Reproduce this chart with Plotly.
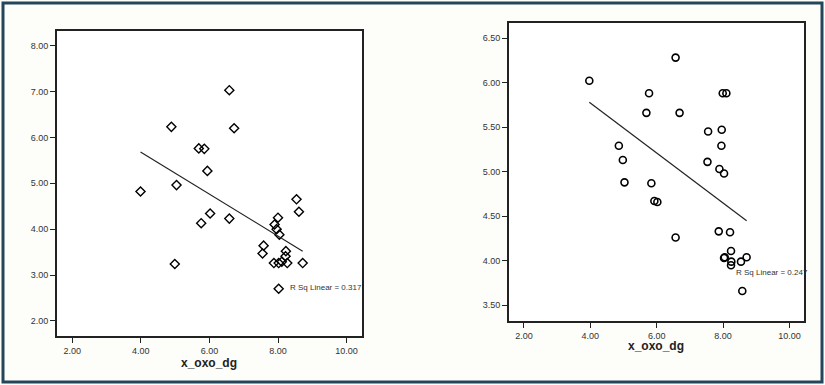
import plotly.graph_objects as go

# ---- data ----
left_x = [3.99, 4.89, 5.04, 4.99, 5.69, 5.85, 5.94, 5.76, 6.02, 6.58, 6.72, 6.58,
          8.00, 7.90, 7.96, 8.04, 7.58, 7.55, 8.54, 8.61, 8.23, 8.22, 7.88, 8.02,
          8.11, 8.27, 8.72, 8.02]
left_y = [4.82, 6.23, 4.96, 3.24, 5.76, 5.75, 5.27, 4.13, 4.34, 7.03, 6.20, 4.23,
          4.25, 4.10, 4.00, 3.88, 3.64, 3.47, 4.65, 4.38, 3.52, 3.41, 3.26, 3.26,
          3.29, 3.26, 3.26, 2.70]
left_fit_x = [3.99, 8.72]
left_fit_y = [5.68, 3.52]
left_r2 = "R Sq Linear = 0.317"

right_x = [3.97, 6.57, 5.77, 5.69, 6.69, 7.99, 8.10, 7.55, 7.96, 7.95, 4.86, 4.98,
           5.03, 7.53, 7.89, 8.03, 5.84, 5.93, 6.02, 6.57, 7.87, 8.21, 8.24, 8.03,
           8.05, 8.25, 8.24, 8.54, 8.71, 8.58]
right_y = [6.02, 6.28, 5.88, 5.66, 5.66, 5.88, 5.88, 5.45, 5.47, 5.29, 5.29, 5.13,
           4.88, 5.11, 5.03, 4.98, 4.87, 4.67, 4.66, 4.26, 4.33, 4.32, 4.11, 4.03,
           4.04, 3.99, 3.95, 3.99, 4.04, 3.66]
right_fit_x = [3.97, 8.71]
right_fit_y = [5.78, 4.45]
right_r2 = "R Sq Linear = 0.247"

x_ticks = [2, 4, 6, 8, 10]
x_ticktext = ["2.00", "4.00", "6.00", "8.00", "10.00"]
left_y_ticks = [2, 3, 4, 5, 6, 7, 8]
left_y_ticktext = ["2.00", "3.00", "4.00", "5.00", "6.00", "7.00", "8.00"]
right_y_ticks = [3.5, 4.0, 4.5, 5.0, 5.5, 6.0, 6.5]
right_y_ticktext = ["3.50", "4.00", "4.50", "5.00", "5.50", "6.00", "6.50"]
x_title = "x_oxo_dg"

W, H = 825, 385
FONT = "Liberation Sans, Arial, sans-serif"

fig = go.Figure()

fig.add_trace(go.Scatter(x=left_x, y=left_y, mode="markers", xaxis="x", yaxis="y",
                         marker=dict(symbol="diamond-open", size=7, color="black",
                                     line=dict(width=1.4, color="black")),
                         showlegend=False))
fig.add_trace(go.Scatter(x=left_fit_x, y=left_fit_y, mode="lines", xaxis="x", yaxis="y",
                         line=dict(color="#222", width=1.2), showlegend=False))
fig.add_trace(go.Scatter(x=right_x, y=right_y, mode="markers", xaxis="x2", yaxis="y2",
                         marker=dict(symbol="circle-open", size=7, color="black",
                                     line=dict(width=1.6, color="black")),
                         showlegend=False))
fig.add_trace(go.Scatter(x=right_fit_x, y=right_fit_y, mode="lines", xaxis="x2", yaxis="y2",
                         line=dict(color="#222", width=1.2), showlegend=False))

tickfont = dict(family=FONT, size=9, color="#333")
axis_common = dict(showgrid=False, zeroline=False, showline=True, linecolor="#222",
                   linewidth=2, mirror=True, ticks="outside", ticklen=5,
                   tickcolor="#222", tickwidth=1.2, tickfont=tickfont)

fig.update_layout(
    width=W, height=H,
    margin=dict(l=0, r=0, t=0, b=0),
    paper_bgcolor="#fdfdf9",
    plot_bgcolor="white",
    xaxis=dict(domain=[57 / W, 362 / W], range=[1.554, 10.45], anchor="y",
               tickvals=x_ticks, ticktext=x_ticktext, **axis_common),
    yaxis=dict(domain=[1 - 336 / H, 1 - 31 / H], range=[1.67, 8.32], anchor="x",
               tickvals=left_y_ticks, ticktext=left_y_ticktext, **axis_common),
    xaxis2=dict(domain=[509 / W, 803.7 / W], range=[1.55, 10.43], anchor="y2",
                tickvals=x_ticks, ticktext=x_ticktext, **axis_common),
    yaxis2=dict(domain=[1 - 320.7 / H, 1 - 23.3 / H], range=[3.327, 6.665], anchor="x2",
                tickvals=right_y_ticks, ticktext=right_y_ticktext, **axis_common),
    shapes=[
        dict(type="rect", xref="paper", yref="paper",
             x0=3 / W, x1=1 - 3 / W, y0=3 / H, y1=1 - 3 / H,
             line=dict(color="#24465a", width=3), fillcolor="rgba(0,0,0,0)", layer="above"),
    ],
    annotations=[
        dict(text="<b>" + x_title + "</b>", xref="paper", yref="paper",
             x=209 / W, y=1 - 354 / H, showarrow=False, xanchor="center", yanchor="top",
             font=dict(family=FONT, size=12, color="#222")),
        dict(text="<b>" + x_title + "</b>", xref="paper", yref="paper",
             x=656 / W, y=1 - 337 / H, showarrow=False, xanchor="center", yanchor="top",
             font=dict(family=FONT, size=12, color="#222")),
        dict(text=left_r2, xref="x", yref="y", x=8.3, y=2.72, showarrow=False,
             xanchor="left", yanchor="middle",
             font=dict(family=FONT, size=8, color="#333")),
        dict(text=right_r2, xref="x2", yref="y2", x=8.33, y=3.87, showarrow=False,
             xanchor="left", yanchor="middle",
             font=dict(family=FONT, size=8, color="#333")),
    ],
)

fig.write_html("out.html", config={"displayModeBar": False},
               post_script="document.body.style.margin='0';document.body.style.overflow='hidden';")
